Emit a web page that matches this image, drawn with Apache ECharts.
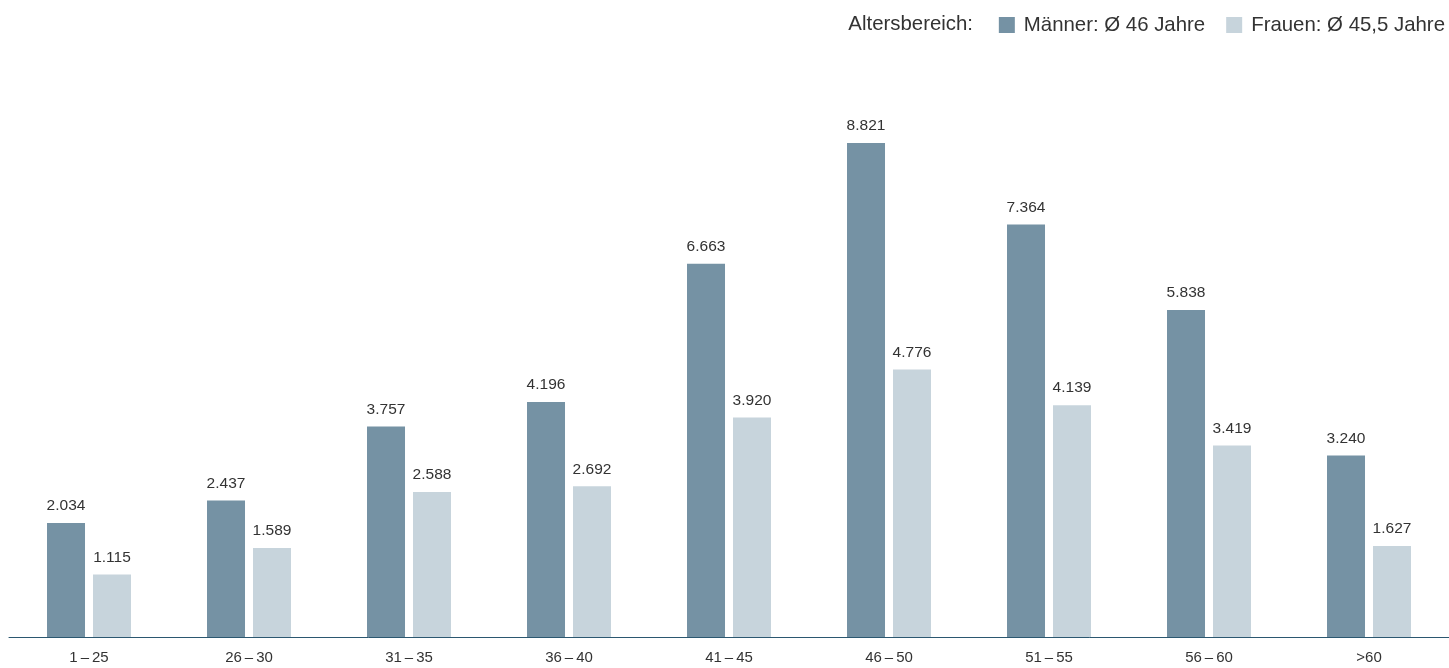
<!DOCTYPE html>
<html>
<head>
<meta charset="utf-8">
<script src="https://cdn.jsdelivr.net/npm/echarts@6/dist/echarts.min.js"></script>
<style>
html,body{margin:0;padding:0;background:#fff;}
#chart{width:1449px;height:668px;}
</style>
</head>
<body>
<div id="chart"></div>
<script>
const categories = ['1–25', '26–30', '31–35', '36–40', '41–45', '46–50', '51–55', '56–60', '>60'];
const maenner = [2034, 2437, 3757, 4196, 6663, 8821, 7364, 5838, 3240];
const frauen = [1115, 1589, 2588, 2692, 3920, 4776, 4139, 3419, 1627];
const seriesNames = ['Männer: Ø 46 Jahre', 'Frauen: Ø 45,5 Jahre'];
const legendTitle = 'Altersbereich:';

function fmt(v) {
  return String(v).replace(/\B(?=(\d{3})+(?!\d))/g, '.');
}

const FONT = '"Liberation Sans", Arial, Helvetica, sans-serif';
const chart = echarts.init(document.getElementById('chart'), null, {renderer: 'canvas'});

const labelCfg = {
  show: true,
  position: 'top',
  distance: 9,
  color: '#333',
  fontSize: 15.5,
  fontFamily: FONT,
  formatter: p => fmt(p.value)
};

chart.setOption({
  animation: false,
  backgroundColor: '#fff',
  textStyle: {fontFamily: FONT},
  graphic: [{
    type: 'text',
    right: 476,
    top: 14,
    style: {text: legendTitle, fontSize: 20.4, fontFamily: FONT, fill: '#333'}
  }],
  legend: {
    right: 4,
    top: 15,
    padding: 0,
    itemWidth: 16,
    itemHeight: 16,
    itemGap: 21,
    icon: 'rect',
    textStyle: {fontSize: 20.4, fontFamily: FONT, color: '#333', padding: [0, 0, 0, 4]},
    data: seriesNames
  },
  grid: {left: 9, right: 0, top: 77, bottom: 31, containLabel: false},
  xAxis: {
    type: 'category',
    data: categories,
    axisLine: {show: true, lineStyle: {color: '#2b5770', width: 1}},
    axisTick: {show: false},
    axisLabel: {
      color: '#333', fontSize: 15, fontFamily: FONT, margin: 13,
      formatter: v => v.replace('–', '\u2009–\u2009')
    }
  },
  yAxis: {
    type: 'value',
    min: 0,
    max: 10000,
    show: false,
    splitLine: {show: false}
  },
  series: [
    {
      name: seriesNames[0],
      type: 'bar',
      data: maenner,
      barWidth: 38,
      barGap: '21%',
      itemStyle: {color: '#7592a4'},
      label: labelCfg
    },
    {
      name: seriesNames[1],
      type: 'bar',
      data: frauen,
      barWidth: 38,
      barGap: '21%',
      itemStyle: {color: '#c7d4dc'},
      label: labelCfg
    }
  ]
});
</script>
</body>
</html>
